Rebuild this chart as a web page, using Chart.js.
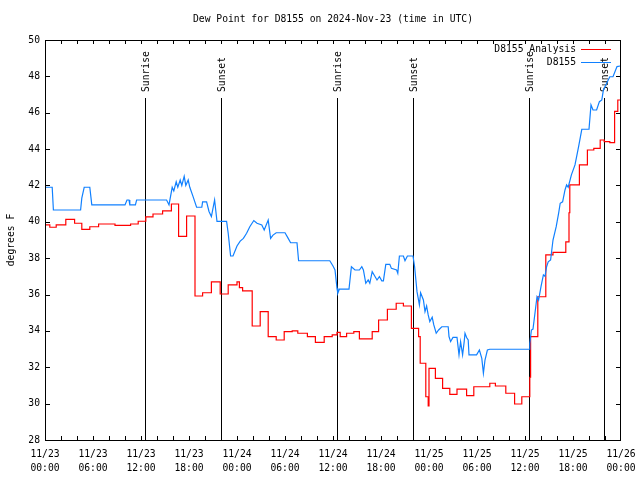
<!DOCTYPE html>
<html>
<head>
<meta charset="utf-8">
<script src="https://cdn.jsdelivr.net/npm/chart.js@4.4.1/dist/chart.umd.min.js"></script>
<style>
  html, body { margin: 0; background: #fff; }
  #wrap { width: 640px; height: 480px; }
</style>
</head>
<body>
<div id="wrap"><canvas id="chart" width="640" height="480"></canvas></div>
<script>
// ── Data (x = hours since 2024-11-23 00:00 UTC) ───────────
const titleText = "Dew Point for D8155 on 2024-Nov-23 (time in UTC)";
const yLabel = "degrees F";

const obsHours = [0, 0.9, 1.05, 4.45, 4.6, 4.9, 5.6, 5.85, 10, 10.25, 10.5, 10.6, 11.3, 11.45,
  15.2, 15.5, 15.9, 16.1, 16.4, 16.6, 16.9, 17.1, 17.4, 17.6, 17.9, 18.1, 18.5, 18.95, 19.6, 19.7,
  20.2, 20.5, 20.8, 21.2, 21.5, 22.7, 22.9, 23.2, 23.5, 24.0, 24.4, 24.8, 25.2, 25.6, 26.1, 26.5,
  27.1, 27.4, 27.9, 28.2, 28.5, 28.9, 30.0, 30.4, 30.7, 31.5, 31.7, 35.6, 36.0, 36.25, 36.5, 36.6,
  36.8, 38.0, 38.3, 38.75, 39.3, 39.6, 39.8, 40.1, 40.4, 40.6, 40.9, 41.25, 41.5, 41.8, 42.1, 42.3,
  42.6, 43.1, 43.3, 43.95, 44.1, 44.3, 44.8, 45.0, 45.3, 46.0, 46.2, 46.4, 46.5, 46.8, 46.95, 47.3,
  47.5, 47.7, 47.9, 48.1, 48.4, 48.6, 48.9, 49.2, 49.6, 50.4, 50.5, 50.7, 51.0, 51.5, 51.75, 51.95,
  52.2, 52.4, 52.5, 52.7, 52.9, 53.0, 53.95, 54.3, 54.6, 54.8, 55.0, 55.3, 55.6, 60.5, 60.6, 60.8,
  61.0, 61.5, 61.7, 62.0, 62.3, 62.5, 62.7, 62.9, 63.2, 63.5, 63.9, 64.2, 64.4, 64.7, 65.0, 65.2,
  65.4, 65.8, 66.25, 66.7, 67.1, 68.0, 68.25, 68.5, 68.95, 69.3, 69.6, 69.8, 70.6, 71.0, 71.5, 71.9];
const obsValues = [41.9, 41.9, 40.65, 40.65, 41.3, 41.9, 41.9, 40.93, 40.93, 41.2, 41.2, 40.93, 40.93, 41.2,
  41.2, 40.93, 41.9, 41.7, 42.2, 41.9, 42.3, 42.0, 42.5, 42.0, 42.3, 41.9, 41.4, 40.8, 40.8, 41.1,
  41.1, 40.57, 40.29, 41.2, 40.02, 40.02, 39.37, 38.12, 38.12, 38.67, 38.94, 39.09, 39.37, 39.73, 40.07, 39.92,
  39.83, 39.55, 40.1, 39.09, 39.27, 39.4, 39.4, 39.09, 38.85, 38.85, 37.86, 37.86, 37.57, 37.35, 36.34, 36.07,
  36.3, 36.3, 37.53, 37.35, 37.35, 37.53, 37.35, 36.62, 36.8, 36.62, 37.26, 36.99, 36.8, 36.99, 36.75, 36.75,
  37.66, 37.66, 37.44, 37.35, 37.17, 38.12, 38.12, 37.86, 38.12, 38.12, 37.53, 36.62, 36.16, 35.43, 36.1, 35.7,
  35.06, 35.37, 34.88, 34.51, 34.75, 34.33, 33.87, 34.05, 34.23, 34.23, 33.69, 33.41, 33.64, 33.64, 32.68, 33.41,
  32.68, 33.41, 33.87, 33.64, 33.5, 32.68, 32.68, 32.95, 32.49, 31.67, 32.4, 32.95, 32.99, 32.99, 33.3, 34.05,
  34.1, 35.88, 35.7, 36.43, 37.08, 37.0, 37.53, 37.8, 37.9, 39.0, 39.73, 40.47, 41.02, 41.1, 41.75, 42.03,
  41.9, 42.58, 43.13, 44.14, 45.09, 45.09, 46.43, 46.15, 46.15, 46.61, 46.7, 47.25, 47.98, 47.98, 48.54, 48.57];

const anaHours = [0, 0.6, 1.4, 2.6, 3.7, 4.6, 5.6, 6.7, 8.75, 10.7, 11.65, 12.6, 13.5, 14.7, 15.8, 16.7,
  17.7, 18.75, 19.7, 20.8, 21.9, 22.9, 24.0, 24.3, 24.7, 25.9, 26.9, 27.9, 28.9, 29.9, 30.9, 31.6,
  32.8, 33.8, 34.9, 35.9, 36.5, 36.9, 37.7, 38.6, 39.3, 40.9, 41.7, 42.8, 43.9, 44.8, 45.8, 46.7,
  46.9, 47.6, 47.9, 48.0, 48.8, 49.7, 50.6, 51.5, 52.7, 53.6, 55.6, 56.3, 57.6, 58.7, 59.6, 60.6,
  60.7, 61.6, 62.6, 63.5, 65.1, 65.5, 65.6, 66.8, 67.8, 68.6, 69.4, 69.9, 70.6, 71.2, 71.6, 71.8, 72];
const anaValues = [40.06, 39.83, 39.7, 39.83, 40.13, 39.92, 39.58, 39.73, 39.88, 39.8, 39.88, 40.03, 40.27, 40.43, 40.6, 40.98,
  39.2, 40.32, 35.92, 36.1, 36.7, 36.03, 36.53, 36.7, 36.38, 36.2, 34.27, 35.06, 33.69, 33.5, 33.96, 34.0,
  33.87, 33.69, 33.37, 33.69, 33.78, 33.92, 33.69, 33.87, 33.96, 33.56, 33.96, 34.6, 35.19, 35.52, 35.37, 34.14,
  33.69, 32.22, 30.38, 29.87, 31.94, 31.39, 30.84, 30.51, 30.8, 30.44, 30.93, 31.12, 30.97, 30.57, 29.98, 30.38,
  31.45, 33.69, 35.88, 38.18, 38.32, 38.9, 40.5, 42.03, 43.13, 43.95, 44.04, 44.5, 44.41, 44.36, 46.07, 46.7, 46.7];

const sunHours  = [12.5, 22.0, 36.5, 46.0, 60.5, 69.9];
const sunLabels = ["Sunrise", "Sunset", "Sunrise", "Sunset", "Sunrise", "Sunset"];

const seriesNames  = ["D8155 Analysis", "D8155"];
const seriesColors = ["#ff0000", "#1080ff"];

// ── Helpers ───────────────────────────────────────────────
const FONT = "'DejaVu Sans Mono', 'Liberation Mono', monospace";
const FSIZE = 9.7;
const pts = (xs, ys) => xs.map((x, i) => ({ x, y: ys[i] }));
const pad2 = n => String(n).padStart(2, "0");
function hourLabel(v) {
  const day = 23 + Math.floor(v / 24);
  return ["11/" + day, pad2(v % 24) + ":00"];
}

// ── Gnuplot-ish decorations ───────────────────────────────
const decor = {
  id: "decor",
  beforeDatasetsDraw(chart) {
    const { ctx, chartArea: a, scales: { x } } = chart;
    ctx.save();
    ctx.strokeStyle = "#000";
    ctx.lineWidth = 1;
    ctx.fillStyle = "#000";
    ctx.font = `${FSIZE}px ${FONT}`;
    sunHours.forEach((h, i) => {
      const px = Math.round(x.getPixelForValue(h)) + 0.5;
      ctx.beginPath();
      ctx.moveTo(px, a.top + 58);
      ctx.lineTo(px, a.bottom);
      ctx.stroke();
      ctx.save();
      ctx.translate(px + 1, a.top + 52);
      ctx.rotate(-Math.PI / 2);
      ctx.textAlign = "left";
      ctx.textBaseline = "middle";
      ctx.fillText(sunLabels[i], 0, 0);
      ctx.restore();
    });
    ctx.restore();
  },
  afterDraw(chart) {
    const { ctx, chartArea: a, scales: { x, y } } = chart;
    ctx.save();
    ctx.strokeStyle = "#000";
    ctx.lineWidth = 1;
    // border
    ctx.strokeRect(a.left + 0.5, a.top + 0.5, a.right - a.left - 1, a.bottom - a.top);
    // ticks, inward and mirrored
    ctx.beginPath();
    for (let h = 2; h < 72; h += 2) {
      const px = Math.round(x.getPixelForValue(h)) + 0.5;
      ctx.moveTo(px, a.bottom); ctx.lineTo(px, a.bottom - 4);
      ctx.moveTo(px, a.top); ctx.lineTo(px, a.top + 4);
    }
    for (let v = 30; v < 50; v += 2) {
      const py = Math.round(y.getPixelForValue(v)) + 0.5;
      ctx.moveTo(a.left, py); ctx.lineTo(a.left + 5, py);
      ctx.moveTo(a.right, py); ctx.lineTo(a.right - 5, py);
    }
    ctx.stroke();

    ctx.fillStyle = "#000";
    ctx.font = `${FSIZE}px ${FONT}`;
    // title
    ctx.textAlign = "center";
    ctx.textBaseline = "middle";
    ctx.fillText(titleText, (a.left + a.right) / 2, 19);
    // y axis label
    ctx.save();
    ctx.translate(11, (a.top + a.bottom) / 2);
    ctx.rotate(-Math.PI / 2);
    ctx.fillText(yLabel, 0, 0);
    ctx.restore();
    // legend
    ctx.textAlign = "right";
    seriesNames.forEach((name, i) => {
      const ly = 49 + i * 13;
      ctx.fillText(name, 576, ly);
      ctx.strokeStyle = seriesColors[i];
      ctx.beginPath();
      ctx.moveTo(581, ly + 0.5);
      ctx.lineTo(611, ly + 0.5);
      ctx.stroke();
    });
    ctx.restore();
  },
};

// ── Chart ─────────────────────────────────────────────────
new Chart(document.getElementById("chart").getContext("2d"), {
  type: "line",
  data: {
    datasets: [
      {
        label: seriesNames[0],
        data: pts(anaHours, anaValues),
        borderColor: seriesColors[0],
        borderWidth: 1.2,
        pointRadius: 0,
        stepped: "after",
        order: 1,
      },
      {
        label: seriesNames[1],
        data: pts(obsHours, obsValues),
        borderColor: seriesColors[1],
        borderWidth: 1.2,
        pointRadius: 0,
        tension: 0,
        order: 0,
      },
    ],
  },
  options: {
    responsive: false,
    animation: false,
    devicePixelRatio: 1,
    layout: { padding: { top: 40, right: 19, left: 0, bottom: 0 } },
    plugins: { legend: { display: false }, tooltip: { enabled: false } },
    scales: {
      x: {
        type: "linear",
        min: 0, max: 72,
        grid: { display: false, drawTicks: false },
        border: { display: false },
        afterFit: s => { s.height = 40; s.paddingLeft = 0; s.paddingRight = 0; },
        afterBuildTicks: s => { s.ticks = Array.from({ length: 13 }, (_, i) => ({ value: i * 6 })); },
        ticks: {
          color: "#000",
          padding: 7,
          maxRotation: 0,
          autoSkip: false,
          font: { family: FONT, size: FSIZE, lineHeight: 1.45 },
          callback: v => hourLabel(v),
        },
      },
      y: {
        min: 28, max: 50,
        grid: { display: false, drawTicks: false },
        border: { display: false },
        afterFit: s => { s.width = 45; s.paddingTop = 0; s.paddingBottom = 0; },
        ticks: {
          stepSize: 2,
          color: "#000",
          padding: 5,
          font: { family: FONT, size: FSIZE },
        },
      },
    },
  },
  plugins: [decor],
});
</script>
</body>
</html>
